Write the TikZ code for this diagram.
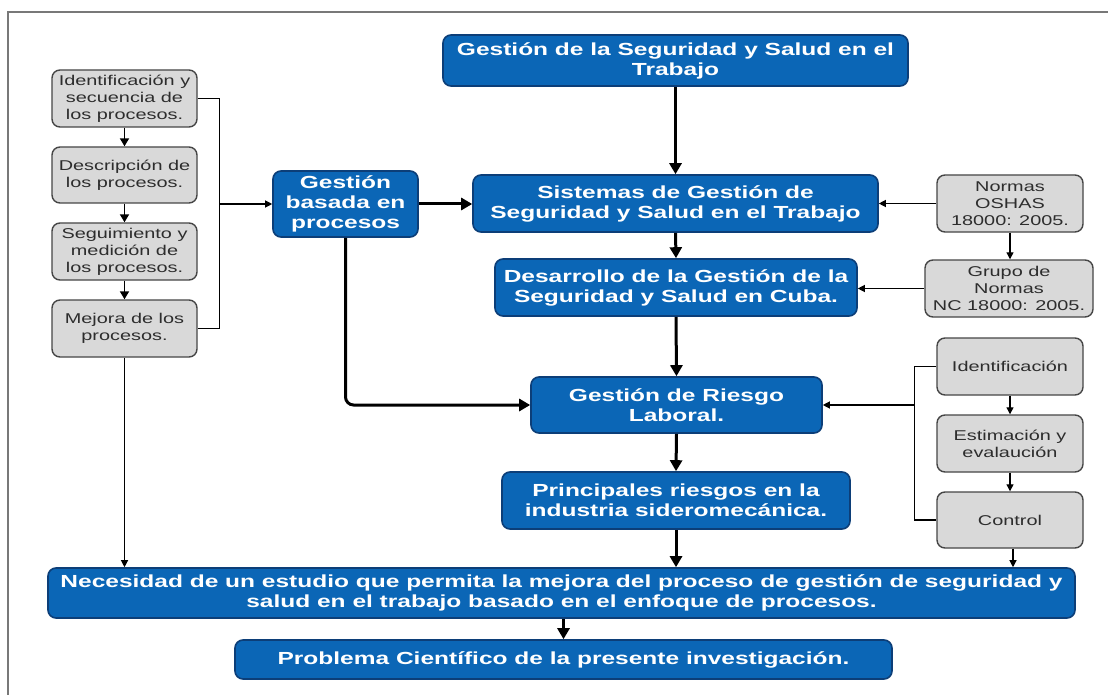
\documentclass[tikz,border=0pt]{standalone}
\usepackage{fontspec}
\setmainfont{Liberation Sans}
\newfontfamily\boxfont{Liberation Sans}[FakeStretch=1.4]
\usetikzlibrary{arrows.meta}
\definecolor{blueF}{RGB}{11,102,182}
\definecolor{blueD}{RGB}{12,62,120}
\definecolor{grayF}{RGB}{217,217,217}
\definecolor{grayD}{RGB}{70,70,70}
\definecolor{grayT}{RGB}{45,45,45}
\definecolor{frameC}{RGB}{120,120,120}
\tikzset{
  bluebox/.style={draw=blueD, line width=1.6pt, fill=blueF, rounded corners=8pt,
    text=white, font=\boxfont\bfseries\fontsize{17.5}{20}\selectfont,
    align=center, inner sep=0pt},
  graybox/.style={draw=grayD, line width=1.4pt, fill=grayF, rounded corners=8pt,
    text=grayT, font=\boxfont\fontsize{14.2}{17}\selectfont,
    align=center, inner sep=0pt, minimum width=145pt, minimum height=57pt},
  thickarrow/.style={line width=3pt, -{Triangle[length=11pt,width=12pt]}},
  midarrow/.style={line width=1.8pt, -{Triangle[length=8pt,width=9pt]}},
  thinarrow/.style={line width=1.2pt, -{Triangle[length=7pt,width=7pt]}},
  thinline/.style={line width=1.2pt}
}
\begin{document}
\begin{tikzpicture}[x=1pt,y=-1pt]
\useasboundingbox (0,0) rectangle (1108,695);
\fill[white] (0,0) rectangle (1108,695);
\draw[frameC, line width=1.6pt] (8,720) -- (8,12) -- (1120,12);

% blue boxes
\node[bluebox, minimum width=465pt, minimum height=51pt] (top) at (675.5,60.5)
  {Gestión de la Seguridad y Salud en el\\Trabajo};
\node[bluebox, minimum width=405pt, minimum height=57pt] (sis) at (675.5,203.5)
  {Sistemas de Gestión de\\Seguridad y Salud en el Trabajo};
\node[bluebox, minimum width=362pt, minimum height=57pt] (des) at (676,287.5)
  {Desarrollo de la Gestión de la\\Seguridad y Salud en Cuba.};
\node[bluebox, minimum width=291pt, minimum height=56pt] (rie) at (676.5,405)
  {Gestión de Riesgo\\Laboral.};
\node[bluebox, minimum width=348pt, minimum height=57pt] (pri) at (676,500.5)
  {Principales riesgos en la\\industria sideromecánica.};
\node[bluebox, minimum width=1027pt, minimum height=50pt] (nec) at (561.5,593)
  {Necesidad de un estudio que permita la mejora del proceso de gestión de seguridad y\\salud en el trabajo basado en el enfoque de procesos.};
\node[bluebox, minimum width=657pt, minimum height=39pt] (pro) at (563.5,659.5)
  {Problema Científico de la presente investigación.};
\node[bluebox, minimum width=145pt, minimum height=66pt] (gbp) at (345.5,204)
  {Gestión\\basada en\\procesos};

% gray boxes left
\node[graybox] (i1) at (124.5,98.5) {Identificación y\\secuencia de\\los procesos.};
\node[graybox, minimum height=56pt] (i2) at (124.5,175) {Descripción de\\los procesos.};
\node[graybox] (i3) at (124.5,251.5) {Seguimiento y\\medición de\\los procesos.};
\node[graybox] (i4) at (124.5,328.5) {Mejora de los\\procesos.};

% gray boxes right
\node[graybox, minimum width=146pt] (nos) at (1010,203.5) {Normas\\OSHAS\\18000: 2005.};
\node[graybox, minimum width=168pt] (gno) at (1009,288.5) {Grupo de\\Normas\\NC 18000: 2005.};
\node[graybox, minimum width=146pt] (rid) at (1010,366.5) {Identificación};
\node[graybox, minimum width=146pt] (res) at (1010,443.5) {Estimación y\\evalaución};
\node[graybox, minimum width=146pt, minimum height=56pt] (rco) at (1010,520) {Control};

% main chain
\draw[thickarrow] (top.south) -- (sis.north);
\draw[thickarrow] (sis.south) -- (des.north);
\draw[thickarrow] (des.south) -- (rie.north);
\draw[thickarrow] (rie.south) -- (pri.north);
\draw[thickarrow] (pri.south) -- (pri.south |- nec.north);
\draw[thickarrow] (pro.north |- nec.south) -- (pro.north);
\draw[thickarrow] (gbp.east) -- (gbp.east -| sis.west);
\draw[thickarrow, rounded corners=8pt] (gbp.south) |- (rie.west);

% left column
\draw[midarrow] (i1.south) -- (i2.north);
\draw[midarrow] (i2.south) -- (i3.north);
\draw[midarrow] (i3.south) -- (i4.north);
\draw[thinline] (i1.east) -- ++(22,0) coordinate (b1) |- (i4.east);
\draw[thinarrow] (b1 |- gbp.west) -- (gbp.west);
\draw[thinarrow] (i4.south) -- (i4.south |- nec.north);

% right column
\draw[thinarrow] (nos.west) -- (nos.west -| sis.east);
\draw[thinarrow] (nos.south) -- (nos.south |- gno.north);
\draw[thinarrow] (gno.west) -- (gno.west -| des.east);
\draw[thinarrow] (rid.south) -- (res.north);
\draw[thinarrow] (res.south) -- (rco.north);
\draw[thinline] (rid.west) -- ++(-22,0) coordinate (b2) |- (rco.west);
\draw[thinarrow] (b2 |- rie.east) -- (rie.east);
\draw[thinarrow] ([xshift=3pt]rco.south) -- ([xshift=3pt]rco.south |- nec.north);
\end{tikzpicture}
\end{document}
